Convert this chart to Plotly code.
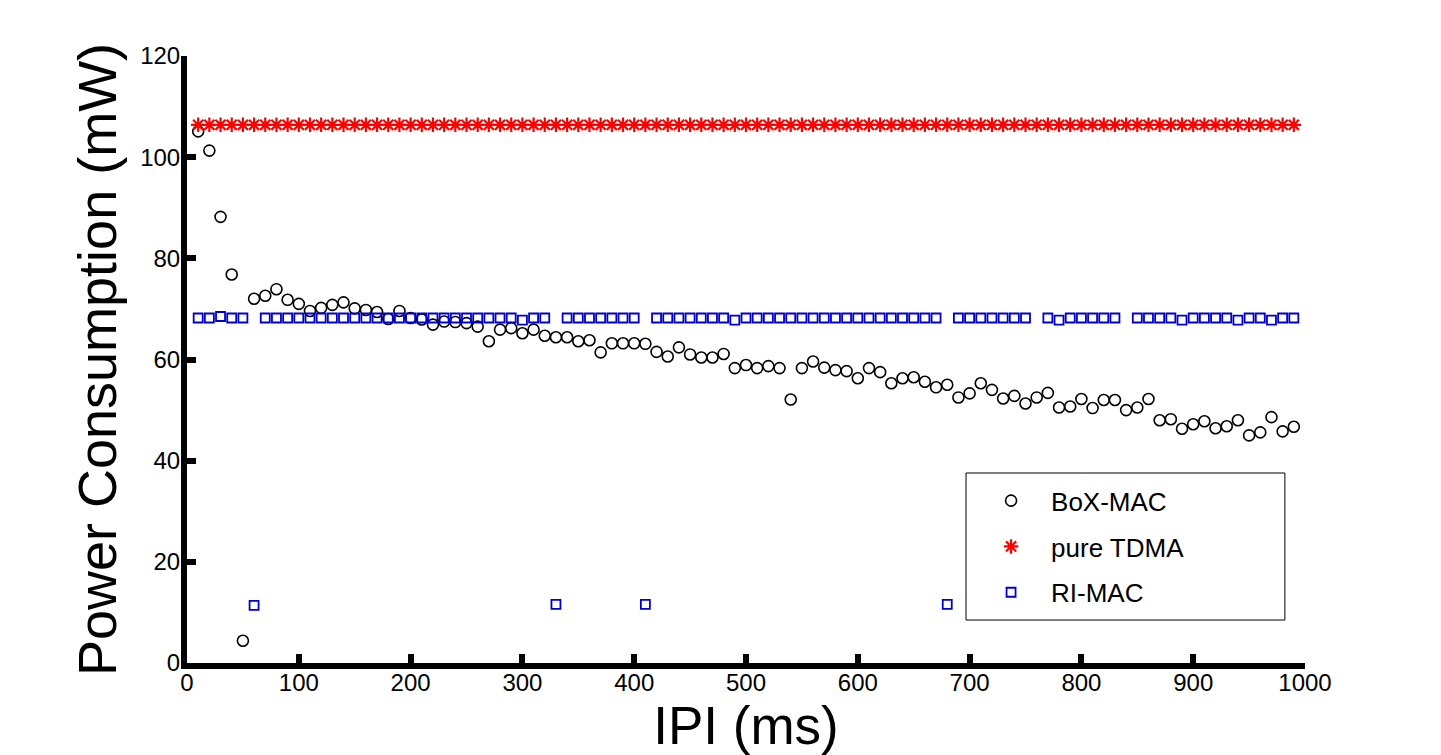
import plotly.graph_objects as go

# IPI values (ms)
ipi = [10, 20, 30, 40, 50, 60, 70, 80, 90, 100,
       110, 120, 130, 140, 150, 160, 170, 180, 190, 200,
       210, 220, 230, 240, 250, 260, 270, 280, 290, 300,
       310, 320, 330, 340, 350, 360, 370, 380, 390, 400,
       410, 420, 430, 440, 450, 460, 470, 480, 490, 500,
       510, 520, 530, 540, 550, 560, 570, 580, 590, 600,
       610, 620, 630, 640, 650, 660, 670, 680, 690, 700,
       710, 720, 730, 740, 750, 760, 770, 780, 790, 800,
       810, 820, 830, 840, 850, 860, 870, 880, 890, 900,
       910, 920, 930, 940, 950, 960, 970, 980, 990]

box_mac = [105.1, 101.3, 88.2, 76.8, 4.4, 72.0, 72.6, 73.9, 71.8, 71.0,
           69.6, 70.2, 70.8, 71.3, 70.1, 69.8, 69.4, 68.0, 69.6, 68.2,
           67.9, 66.9, 67.5, 67.4, 67.2, 66.5, 63.6, 65.9, 66.2, 65.2,
           65.9, 64.7, 64.4, 64.4, 63.6, 63.8, 61.4, 63.2, 63.2, 63.2,
           63.1, 61.5, 60.6, 62.4, 61.0, 60.4, 60.4, 61.1, 58.3, 58.9,
           58.3, 58.7, 58.3, 52.1, 58.3, 59.6, 58.4, 57.9, 57.7, 56.3,
           58.3, 57.5, 55.3, 56.3, 56.5, 55.6, 54.5, 55.0, 52.5, 53.3,
           55.3, 54.0, 52.3, 52.8, 51.3, 52.5, 53.4, 50.5, 50.7, 52.2,
           50.4, 52.0, 52.0, 50.0, 50.5, 52.2, 48.0, 48.2, 46.3, 47.2,
           47.8, 46.4, 46.8, 48.0, 45.0, 45.6, 48.6, 45.8, 46.7]

pure_tdma = [106.4, 106.4, 106.4, 106.4, 106.4, 106.4, 106.4, 106.4, 106.4, 106.4,
             106.4, 106.4, 106.4, 106.4, 106.4, 106.4, 106.4, 106.4, 106.4, 106.4,
             106.4, 106.4, 106.4, 106.4, 106.4, 106.4, 106.4, 106.4, 106.4, 106.4,
             106.4, 106.4, 106.4, 106.4, 106.4, 106.4, 106.4, 106.4, 106.4, 106.4,
             106.4, 106.4, 106.4, 106.4, 106.4, 106.4, 106.4, 106.4, 106.4, 106.4,
             106.4, 106.4, 106.4, 106.4, 106.4, 106.4, 106.4, 106.4, 106.4, 106.4,
             106.4, 106.4, 106.4, 106.4, 106.4, 106.4, 106.4, 106.4, 106.4, 106.4,
             106.4, 106.4, 106.4, 106.4, 106.4, 106.4, 106.4, 106.4, 106.4, 106.4,
             106.4, 106.4, 106.4, 106.4, 106.4, 106.4, 106.4, 106.4, 106.4, 106.4,
             106.4, 106.4, 106.4, 106.4, 106.4, 106.4, 106.4, 106.4, 106.4]

ri_mac = [68.2, 68.2, 68.5, 68.2, 68.2, 11.4, 68.2, 68.2, 68.2, 68.2,
          68.2, 68.2, 68.2, 68.2, 68.2, 68.2, 68.2, 68.2, 68.2, 68.2,
          68.2, 68.2, 68.2, 68.2, 68.2, 68.2, 68.2, 68.2, 68.2, 67.8,
          68.2, 68.2, 11.6, 68.2, 68.2, 68.2, 68.2, 68.2, 68.2, 68.2,
          11.6, 68.2, 68.2, 68.2, 68.2, 68.2, 68.2, 68.2, 67.8, 68.2,
          68.2, 68.2, 68.2, 68.2, 68.2, 68.2, 68.2, 68.2, 68.2, 68.2,
          68.2, 68.2, 68.2, 68.2, 68.2, 68.2, 68.2, 11.6, 68.2, 68.2,
          68.2, 68.2, 68.2, 68.2, 68.2, None, 68.2, 67.8, 68.2, 68.2,
          68.2, 68.2, 68.2, None, 68.2, 68.2, 68.2, 68.2, 67.8, 68.2,
          68.2, 68.2, 68.2, 67.8, 68.2, 68.2, 67.8, 68.2, 68.2]

x_ticks = [0, 100, 200, 300, 400, 500, 600, 700, 800, 900, 1000]
y_ticks = [0, 20, 40, 60, 80, 100, 120]

FONT = "Liberation Sans, Arial, Helvetica, sans-serif"

fig = go.Figure()
fig.add_trace(go.Scatter(
    x=ipi, y=box_mac, mode="markers", name="BoX-MAC", legendgroup="a",
    marker=dict(symbol="circle-open", size=11, color="black",
                line=dict(color="black", width=1.6))))
fig.add_trace(go.Scatter(
    x=ipi, y=pure_tdma, mode="markers", name="pure TDMA", legendgroup="b",
    marker=dict(symbol="asterisk-open", size=12, color="#ff0000",
                line=dict(color="#ff0000", width=2.2))))
fig.add_trace(go.Scatter(
    x=ipi, y=ri_mac, mode="markers", name="RI-MAC", legendgroup="c",
    marker=dict(symbol="square-open", size=9, color="#0000cc",
                line=dict(color="#0000cc", width=1.8))))

axis_common = dict(
    showline=True, linewidth=6, linecolor="black", mirror=False,
    ticks="inside", ticklen=9, tickwidth=6, tickcolor="black",
    showgrid=False, zeroline=False,
    tickfont=dict(family=FONT, size=24, color="black"),
)

fig.update_xaxes(range=[0, 1000], tickvals=x_ticks, ticklabelstandoff=-7, **axis_common,
                 title=dict(text="IPI (ms)", font=dict(family=FONT, size=53, color="black"),
                            standoff=0))
fig.update_yaxes(range=[0, 120], tickvals=y_ticks, ticklabelstandoff=-4, **axis_common,
                 title=dict(text="Power Consumption (mW)",
                            font=dict(family=FONT, size=54, color="black"),
                            standoff=8))

# legend frame
fig.add_shape(type="rect", xref="paper", yref="paper",
              x0=0.6968, x1=0.982, y0=0.0708, y1=0.313,
              line=dict(color="black", width=1), fillcolor="white", layer="below")

fig.update_layout(
    width=1441, height=755,
    margin=dict(l=187, r=136, t=56, b=92),
    paper_bgcolor="white", plot_bgcolor="white",
    font=dict(family=FONT, color="black"),
    legend=dict(x=0.7013, y=0.306, xanchor="left", yanchor="top",
                bgcolor="rgba(0,0,0,0)", borderwidth=0, itemwidth=70,
                font=dict(family=FONT, size=26, color="black"),
                tracegroupgap=9),
    showlegend=True,
)

fig.write_html("out.html", config={"displayModeBar": False},
               post_script="document.body.style.margin='0';")
